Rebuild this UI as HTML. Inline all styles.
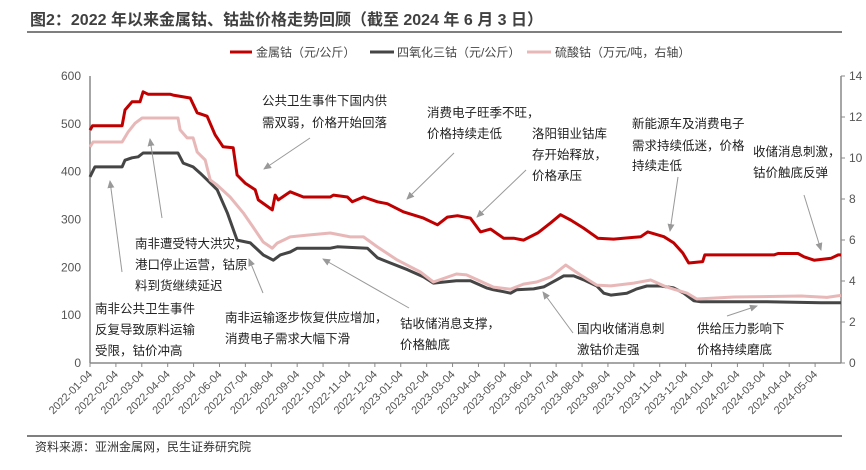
<!DOCTYPE html>
<html><head><meta charset="utf-8">
<style>
body{margin:0;background:#fff;}
svg{display:block;font-family:"Liberation Sans","Noto Sans CJK SC",sans-serif;}
.ann{font-size:12.5px;fill:#222;}
</style></head>
<body>
<svg id="chart" width="866" height="470" viewBox="0 0 866 470">
<defs><marker id="ah" markerWidth="8" markerHeight="8" refX="7" refY="4" orient="auto"><path d="M0,0.5 L8,4 L0,7.5 Z" fill="#999"/></marker></defs>
<text x="30" y="25" font-size="16" font-weight="bold" fill="#404040">图2：2022 年以来金属钴、钴盐价格走势回顾（截至 2024 年 6 月 3 日）</text>
<line x1="27" y1="32" x2="842" y2="32" stroke="#555" stroke-width="1.5"/>
<g>
<g><line x1="230" y1="52" x2="252" y2="52" stroke="#c00000" stroke-width="3"/><text x="256" y="56.5" font-size="12" fill="#444">金属钴（元/公斤）</text></g>
<g><line x1="370" y1="52" x2="394" y2="52" stroke="#454545" stroke-width="3"/><text x="397" y="56.5" font-size="12" fill="#444">四氧化三钴（元/公斤）</text></g>
<g><line x1="527" y1="52" x2="551" y2="52" stroke="#e8b8b8" stroke-width="3"/><text x="555" y="56.5" font-size="12" fill="#444">硫酸钴（万元/吨，右轴）</text></g>
</g>
<g id="axes"></g>
<g id="series"></g>
<g id="annotations"></g>
<line x1="27" y1="436" x2="842" y2="436" stroke="#555" stroke-width="1.5"/>
<text x="35" y="451" font-size="12" fill="#333">资料来源：亚洲金属网，民生证券研究院</text>
</svg>
<script>
// time in months since 2022-01-04
const tickLabels=["2022-01-04","2022-02-04","2022-03-04","2022-04-04","2022-05-04","2022-06-04","2022-07-04","2022-08-04","2022-09-04","2022-10-04","2022-11-04","2022-12-04","2023-01-04","2023-02-04","2023-03-04","2023-04-04","2023-05-04","2023-06-04","2023-07-04","2023-08-04","2023-09-04","2023-10-04","2023-11-04","2023-12-04","2024-01-04","2024-02-04","2024-03-04","2024-04-04","2024-05-04"];
const leftTicks=[0,100,200,300,400,500,600];
const rightTicks=[0,2,4,6,8,10,12,14];
const metalT=[0,0.1,1.24,1.35,1.62,1.93,2.05,2.24,3.09,3.21,3.87,4.14,4.52,4.83,5.14,5.53,5.68,5.99,6.38,6.5,7.04,7.15,7.27,7.73,8.24,9.28,9.4,9.94,10.13,10.56,11.1,11.48,12.1,12.88,13.42,13.8,14.19,14.69,15.08,15.47,15.97,16.36,16.74,17.29,17.79,18.17,18.56,19.06,19.61,20.22,21.27,21.54,22.16,22.54,22.89,23.12,23.66,23.74,26.41,26.57,27.34,27.57,27.96,28.62,28.89,29.0];
const metalV=[487,496,496,529,546,546,567,562,562,560,554,523,516,477,452,450,393,376,362,341,320,351,341,358,347,347,351,347,337,347,337,333,316,303,289,305,308,303,274,280,261,261,257,272,293,310,299,282,261,259,264,274,264,251,230,209,212,226,226,229,229,222,215,219,226,226];
const oxideT=[0,0.19,1.24,1.35,1.62,1.86,2.05,3.4,3.6,3.98,4.25,4.52,4.91,5.3,5.68,6.19,6.69,7.08,7.35,7.73,8.0,9.28,9.55,10.71,11.1,11.6,12.26,12.88,13.26,14.15,14.69,15.31,15.58,15.97,16.24,16.47,17.13,17.52,18.02,18.29,18.68,19.06,19.57,19.84,20.11,20.73,21.11,21.5,22.04,22.54,22.93,23.32,23.59,26.14,28.23,29.0];
const oxideV=[389,410,410,424,429,431,439,439,418,410,397,383,362,314,257,251,226,215,226,232,240,240,243,240,220,209,195,180,167,172,172,157,153,149,146,153,155,159,174,182,182,174,161,146,142,146,155,161,161,157,146,130,128,128,126,126];
const sulfT=[0,0.12,1.24,1.47,1.74,2.01,3.4,3.48,3.75,3.98,4.14,4.45,4.64,4.91,5.41,5.92,6.3,6.69,7.04,7.23,7.73,8.39,9.28,10.05,10.56,11.1,11.87,12.76,13.26,14.15,14.54,15.58,16.24,16.74,17.25,17.79,18.37,18.95,19.57,20.11,21.0,21.65,22.16,22.54,23.05,23.43,24.86,27.46,28.46,29.0];
const sulfV=[10.54,10.78,10.78,11.27,11.7,11.95,11.95,11.37,10.98,10.98,10.29,9.9,8.93,8.68,8.1,7.32,6.63,5.9,5.6,5.85,6.15,6.24,6.34,6.15,6.15,5.66,5.02,4.44,3.95,4.34,4.3,3.7,3.6,3.85,3.95,4.2,4.78,4.29,3.8,3.76,3.9,4.05,3.76,3.6,3.41,3.12,3.22,3.27,3.2,3.3];

const NS="http://www.w3.org/2000/svg";
const X0=90,X1=841,Y0=363,Y1=76,TMAX=29;
const xs=t=>X0+(X1-X0)*t/TMAX;
const yl=v=>Y0-(Y0-Y1)*v/600;
const yr=v=>Y0-(Y0-Y1)*v/14;
function mk(tag,attrs,parent,txt){const e=document.createElementNS(NS,tag);for(const k in attrs)e.setAttribute(k,attrs[k]);if(txt!==undefined)e.textContent=txt;parent.appendChild(e);return e;}
const axes=document.getElementById('axes');
let e;
e=mk('line',{x1:X0,y1:Y1,x2:X0,y2:Y0,stroke:'#888','stroke-width':1.5},axes);


e=mk('line',{x1:X1,y1:Y1,x2:X1,y2:Y0,stroke:'#888','stroke-width':1.5},axes);


e=mk('line',{x1:X0,y1:Y0,x2:X1,y2:Y0,stroke:'#888','stroke-width':1.5},axes);


leftTicks.forEach(v=>{
  e=mk('text',{x:81,y:yl(v)+4,'font-size':12,fill:'#555','text-anchor':'end'},axes,String(v));
  
  
});
rightTicks.forEach(v=>{
  mk('line',{x1:X1,y1:yr(v),x2:X1+4,y2:yr(v),stroke:'#888'},axes);
  e=mk('text',{x:849,y:yr(v)+4,'font-size':12,fill:'#555'},axes,String(v));
  
  
});
tickLabels.forEach((lab,i)=>{
  const x=xs(i);
  mk('line',{x1:x,y1:Y0,x2:x,y2:Y0+4,stroke:'#888'},axes);
  e=mk('text',{x:x+3,y:Y0+12,'font-size':11,fill:'#555','text-anchor':'end',transform:`rotate(-45 ${x+3} ${Y0+12})`},axes,lab);
  
  
});
const ser=document.getElementById('series');
function line(T,V,yf,color,w,name){
  const d=T.map((t,i)=>(i?'L':'M')+xs(t).toFixed(1)+','+yf(V[i]).toFixed(1)).join(' ');
  const p=mk('path',{d:d,fill:'none',stroke:color,'stroke-width':w,'stroke-linejoin':'round'},ser);
  
  
}
line(oxideT,oxideV,yl,'#454545',3,'series-cobalt-oxide');
line(sulfT,sulfV,yr,'#e8b8b8',3,'series-cobalt-sulfate');
line(metalT,metalV,yl,'#c00000',3,'series-metal-cobalt');

const ann=document.getElementById('annotations');
const notes=[
 [262,[105,127],["公共卫生事件下国内供","需双弱，价格开始回落"],[310,138,264,169],'note-domestic-weak'],
 [427,[117,138],["消费电子旺季不旺，","价格持续走低"],[454,153,407,199],'note-consumer-weak'],
 [532,[138,159,180],["洛阳钼业钴库","存开始释放，","价格承压"],[526,170,477,217],'note-cmoc-release'],
 [632,[128,150,170],["新能源车及消费电子","需求持续低迷，价格","持续走低"],[678,177,670,231],'note-ev-weak'],
 [753,[156,177],["收储消息刺激，","钴价触底反弹"],[804,195,821,250],'note-stockpile-rebound'],
 [135,[248,269,290],["南非遭受特大洪灾，","港口停止运营，钴原","料到货继续延迟"],[162,218,150,139],'note-flood'],
 [95,[313,334,355],["南非公共卫生事件","反复导致原料运输","受限，钴价冲高"],[122,272,110,181],'note-sa-health'],
 [225,[322,343],["南非运输逐步恢复供应增加，","消费电子需求大幅下滑"],[263,293,249,259],'note-transport-recovery'],
 [400,[328,349],["钴收储消息支撑，","价格触底"],[409,308,323,259],'note-stockpile-support'],
 [577,[333,354],["国内收储消息刺","激钴价走强"],[573,333,543,292],'note-domestic-stockpile'],
 [697,[333,354],["供给压力影响下","价格持续磨底"],[727,316,757,306],'note-supply-pressure']
];
notes.forEach(n=>{
  const g=mk('g',{},ann);
  
  
  n[2].forEach((s,i)=>mk('text',{x:n[0],y:n[1][i],class:'ann'},g,s));
  const a=n[3];
  mk('line',{x1:a[0],y1:a[1],x2:a[2],y2:a[3],stroke:'#999','stroke-width':1,'marker-end':'url(#ah)'},g);
});
</script>
</body></html>
